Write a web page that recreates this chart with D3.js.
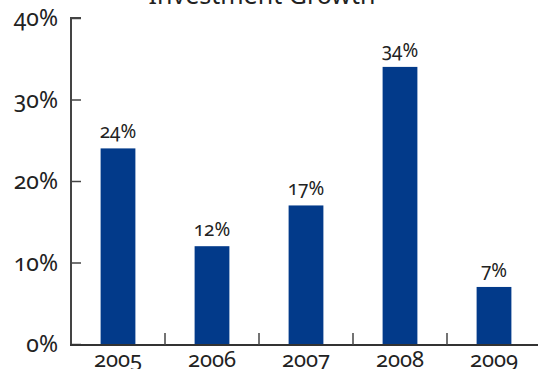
<!DOCTYPE html>
<html>
<head>
<meta charset="utf-8">
<script src="https://cdn.jsdelivr.net/npm/d3@7"></script>
<style>
  html, body { margin: 0; padding: 0; background: #fff; }
  svg { display: block; }
  text { font-family: "Noto Sans", sans-serif; font-feature-settings: "onum" 1; fill: #222; }
</style>
</head>
<body>
<svg id="chart" width="538" height="369"></svg>
<script>
// Annual investment growth, percent
const years = ["2005", "2006", "2007", "2008", "2009"];
const growth = [24, 12, 17, 34, 7];
const yTicks = [0, 10, 20, 30, 40];
const title = "Investment Growth";

const svg = d3.select("#chart");
const plotLeft = 71, plotRight = 541, plotTop = 18, plotBottom = 344;

const x = d3.scaleBand().domain(years).range([plotLeft, plotRight]).paddingInner(0.63).paddingOuter(0.315);
const xGrid = d3.scaleBand().domain(years).range([plotLeft, plotRight]);
const y = d3.scaleLinear().domain([0, 40]).range([plotBottom, plotTop]);

// Title
svg.append("text")
  .attr("x", 262).attr("y", 4)
  .attr("text-anchor", "middle")
  .style("font-size", "25px")
  .text(title);

// Bars
svg.selectAll("rect.bar").data(years).join("rect")
  .attr("class", "bar")
  .attr("x", d => x(d))
  .attr("width", x.bandwidth())
  .attr("y", (d, i) => y(growth[i]))
  .attr("height", (d, i) => y(0) - y(growth[i]))
  .attr("fill", "#023a8a");

// Value labels
svg.selectAll("text.val").data(years).join("text")
  .attr("class", "val")
  .attr("x", d => x(d) + x.bandwidth() / 2)
  .attr("y", (d, i) => y(growth[i]) - 10)
  .attr("text-anchor", "middle")
  .style("font-size", "19px")
  .text((d, i) => growth[i] + "%");

// Y axis: ticks point inward
const yAxis = svg.append("g").attr("transform", `translate(${plotLeft},0)`)
  .call(d3.axisRight(y).tickValues(yTicks).tickSize(10).tickFormat(""));
yAxis.select(".domain").attr("d", `M10,${plotTop}H0V${plotBottom}`).attr("stroke", "#444").attr("stroke-width", 2);
yAxis.selectAll(".tick line").attr("stroke", "#444").attr("stroke-width", 1.5);
svg.selectAll("text.ylab").data(yTicks).join("text")
  .attr("class", "ylab")
  .attr("x", 58).attr("y", d => y(d) + 8)
  .attr("text-anchor", "end")
  .style("font-size", "23px")
  .text(d => d + "%");

// X axis: separators between categories
svg.append("line")
  .attr("x1", plotLeft - 1).attr("x2", 538)
  .attr("y1", plotBottom + 1).attr("y2", plotBottom + 1)
  .attr("stroke", "#333").attr("stroke-width", 2);
svg.selectAll("line.sep").data(years.slice(1)).join("line")
  .attr("class", "sep")
  .attr("x1", d => xGrid(d)).attr("x2", d => xGrid(d))
  .attr("y1", plotBottom + 1).attr("y2", plotBottom - 11)
  .attr("stroke", "#444").attr("stroke-width", 1.5);
svg.selectAll("text.xlab").data(years).join("text")
  .attr("class", "xlab")
  .attr("x", d => xGrid(d) + xGrid.bandwidth() / 2)
  .attr("y", 367)
  .attr("text-anchor", "middle")
  .style("font-size", "22px")
  .text(d => d);
</script>
</body>
</html>
